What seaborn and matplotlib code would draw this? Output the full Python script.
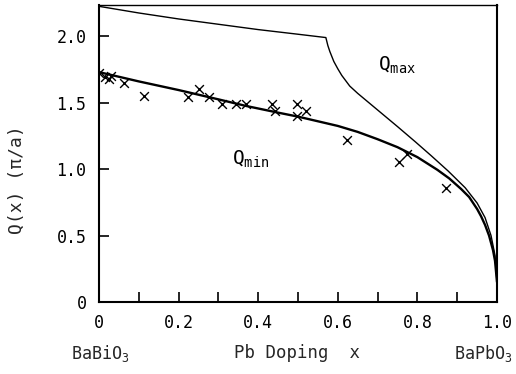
import matplotlib
matplotlib.use("Agg")
import matplotlib.pyplot as plt
import seaborn as sns
import pandas as pd
import numpy as np

# Data
qmax_x = [0.0, 0.1, 0.2, 0.3, 0.4, 0.5, 0.57, 0.575, 0.58, 0.59, 0.60, 0.61, 0.63,
          0.65, 0.67, 0.71, 0.75, 0.795, 0.835, 0.8775, 0.92, 0.95, 0.97, 0.985, 0.995, 1.0]
qmax_y = [2.225, 2.175, 2.13, 2.09, 2.05, 2.015, 1.99, 1.93, 1.885, 1.81, 1.755, 1.705,
          1.625, 1.57, 1.52, 1.42, 1.32, 1.205, 1.10, 0.985, 0.86, 0.745, 0.635, 0.50,
          0.35, 0.15]

qmin_x = [0.0, 0.05, 0.1, 0.2, 0.3, 0.37, 0.45, 0.5, 0.55, 0.6, 0.65, 0.7, 0.75, 0.8,
          0.85, 0.88, 0.91, 0.93, 0.95, 0.96, 0.97, 0.98, 0.99, 0.995, 1.0]
qmin_y = [1.73, 1.695, 1.66, 1.595, 1.525, 1.475, 1.425, 1.395, 1.36, 1.325, 1.28, 1.225,
          1.165, 1.09, 0.995, 0.93, 0.85, 0.79, 0.70, 0.645, 0.58, 0.50, 0.39, 0.31, 0.15]

data_x = [0.0, 0.015, 0.025, 0.03, 0.0625, 0.1125, 0.223, 0.25, 0.276, 0.31, 0.345, 0.37,
          0.435, 0.443, 0.498, 0.52, 0.498, 0.623, 0.755, 0.775, 0.872]
data_y = [1.72, 1.69, 1.68, 1.70, 1.65, 1.55, 1.54, 1.60, 1.54, 1.49, 1.49, 1.49,
          1.49, 1.44, 1.49, 1.44, 1.40, 1.22, 1.05, 1.11, 0.86]

x_ticks = [0.0, 0.2, 0.4, 0.6, 0.8, 1.0]
x_ticklabels = ["0", "0.2", "0.4", "0.6", "0.8", "1.0"]
y_ticks = [0.0, 0.5, 1.0, 1.5, 2.0]
y_ticklabels = ["0", "0.5", "1.0", "1.5", "2.0"]

sns.set_theme(style="ticks")
plt.rcParams["font.family"] = ["DejaVu Sans Mono", "DejaVu Sans"]

fig = plt.figure(figsize=(5.16, 3.74), dpi=100)
ax = fig.add_axes([99 / 516, 1 - 302 / 374, (497 - 99) / 516, (302 - 5) / 374])

df_max = pd.DataFrame({"x": qmax_x, "y": qmax_y})
df_min = pd.DataFrame({"x": qmin_x, "y": qmin_y})
df_pts = pd.DataFrame({"x": data_x, "y": data_y})

sns.lineplot(data=df_max, x="x", y="y", ax=ax, color="black", lw=1.0, sort=False,
             estimator=None)
sns.lineplot(data=df_min, x="x", y="y", ax=ax, color="black", lw=1.7, sort=False,
             estimator=None)
sns.scatterplot(data=df_pts, x="x", y="y", ax=ax, marker="x", color="black", s=40,
                linewidth=1.0)

ax.set_xlim(0, 1.0)
ax.set_ylim(0, 2.235)
ax.set_xticks(x_ticks)
ax.set_xticklabels(x_ticklabels)
ax.set_xticks(np.arange(0.1, 1.0, 0.2), minor=True)
ax.set_yticks(y_ticks)
ax.set_yticklabels(y_ticklabels)
ax.tick_params(axis="both", which="both", direction="in", length=7, width=1.2,
               labelsize=12, colors="black")
ax.tick_params(axis="x", pad=9)
ax.tick_params(axis="y", pad=9)
ax.set_xlabel("")
ax.set_ylabel("")
for side in ["left", "bottom", "right"]:
    ax.spines[side].set_linewidth(1.5)
    ax.spines[side].set_color("black")
ax.spines["top"].set_linewidth(1.0)
ax.spines["top"].set_color("black")

ax.text(0.70, 1.74, r"$\mathregular{Q_{max}}$", fontsize=14, color="black")
ax.text(0.335, 1.03, r"$\mathregular{Q_{min}}$", fontsize=14, color="black")

fig.text(17 / 516, 1 - 180 / 374, "Q(x) (π/a)", rotation=90, ha="center", va="center",
         fontsize=13)
fig.text(297 / 516, 1 - 353 / 374, "Pb Doping  x", ha="center", va="center", fontsize=12.5)
fig.text(100 / 516, 1 - 353 / 374, r"$\mathregular{BaBiO_3}$", ha="center", va="center",
         fontsize=12)
fig.text(483 / 516, 1 - 353 / 374, r"$\mathregular{BaPbO_3}$", ha="center", va="center",
         fontsize=12)

fig.savefig("out.png", dpi=100)
